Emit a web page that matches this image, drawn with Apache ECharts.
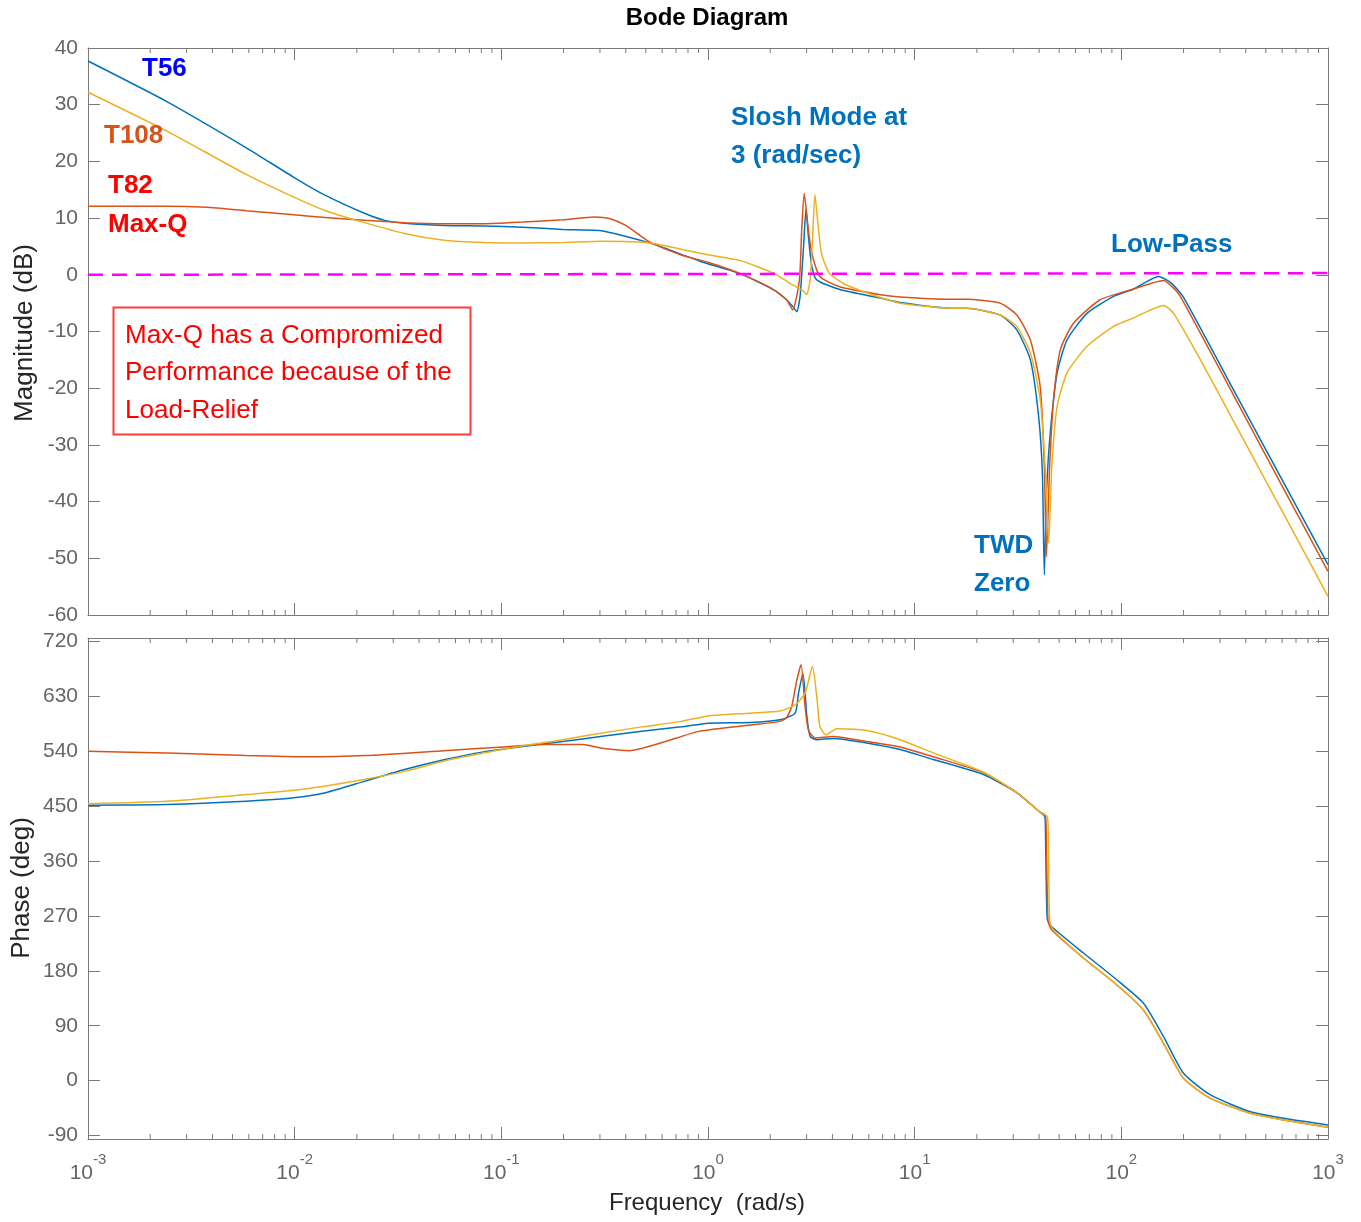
<!DOCTYPE html>
<html>
<head>
<meta charset="utf-8">
<title>Bode Diagram</title>
<script src="https://cdn.jsdelivr.net/npm/echarts@6.0.0/dist/echarts.min.js"></script>
<style>
  html, body { margin: 0; padding: 0; background: #ffffff; }
  #chart { width: 1361px; height: 1222px; }
</style>
</head>
<body>
<div id="chart"></div>
<script>
// ---- data (frequency in rad/s) ----
// T56 (blue)
var t56MagFreq = [0.001, 0.00242, 0.00583, 0.0099, 0.0141, 0.0219, 0.0272, 0.034, 0.0528, 0.082, 0.127, 0.198, 0.3, 0.524, 0.914, 1.43, 2.07, 2.4, 2.57, 2.69, 2.79, 2.9, 2.98, 3.06, 3.18, 3.36, 4.34, 6.82, 8.5, 14.9, 17.9, 25.9, 31.2, 36.3, 39.8, 41.5, 42.4, 43.5, 45.3, 48.9, 54.6, 68.2, 91.8, 114.8, 151.5, 175, 200, 350, 611, 1000];
var t56Mag = [37.7, 30.5, 22.4, 17.2, 14.0, 10.8, 9.6, 9.1, 8.7, 8.6, 8.4, 8.0, 7.8, 5.6, 2.4, 0.2, -2.6, -4.4, -5.6, -6.5, -3.8, 5.0, 11.6, 6.8, 1.5, -0.9, -2.6, -4.1, -4.9, -5.9, -5.9, -7.1, -9.7, -15, -25, -35, -52.9, -38, -27.9, -17.3, -11.5, -6.8, -3.8, -2.5, -0.3, -1.5, -4.0, -20.4, -36.7, -51.1];
var t56PhaseFreq = [0.001, 0.00242, 0.00583, 0.0099, 0.0141, 0.0219, 0.034, 0.0528, 0.082, 0.127, 0.198, 0.308, 0.478, 0.743, 1.0, 1.6, 2.23, 2.64, 2.74, 2.88, 3.01, 3.12, 3.36, 4.04, 5.86, 8.5, 12.3, 21.5, 31.2, 40.5, 42.0, 42.8, 43.8, 46.1, 65.8, 95.3, 128, 160, 200, 270, 421, 611, 1000];
var t56Phase = [451.6, 452.7, 458, 463.6, 472, 491, 510, 526, 539, 548, 556, 564.5, 573, 580, 586, 587, 591.6, 602.5, 635, 667.6, 597, 564.4, 559, 561, 553.6, 542.8, 526.5, 502, 472.3, 440, 436, 430, 265, 252.4, 208.8, 165, 126.8, 72.1, 12, -23.5, -50.9, -61.7, -72.7];

// T82 / Max-Q (red)
var t82MagFreq = [0.001, 0.00242, 0.00375, 0.00583, 0.0099, 0.0141, 0.0219, 0.034, 0.0528, 0.082, 0.127, 0.198, 0.282, 0.336, 0.40, 0.522, 0.743, 1.0, 1.43, 2.07, 2.4, 2.57, 2.77, 2.84, 2.92, 3.06, 3.18, 3.48, 4.34, 6.82, 8.5, 14.9, 17.9, 25.9, 31.2, 36.3, 40.5, 42.4, 43.4, 45.0, 47.0, 50.7, 58.8, 79, 114.8, 160, 175, 193, 350, 611, 1000];
var t82Mag = [12.1, 12.1, 11.9, 11.3, 10.6, 10.1, 9.6, 9.2, 9.0, 9.0, 9.3, 9.7, 10.2, 9.9, 8.7, 5.8, 3.5, 2.2, 0.2, -2.6, -4.4, -6.2, -0.9, 7.9, 14.4, 7.9, 3.8, -0.3, -2.1, -3.5, -3.9, -4.3, -4.3, -5.0, -7.1, -11.5, -19.7, -33.8, -49.7, -33.8, -22, -13.2, -8.5, -4.4, -2.5, -1.0, -2.0, -3.8, -21.3, -37.8, -52.3];
var t82PhaseFreq = [0.001, 0.00242, 0.00584, 0.0113, 0.0219, 0.0528, 0.102, 0.159, 0.247, 0.307, 0.418, 0.596, 0.914, 1.6, 2.23, 2.4, 2.54, 2.69, 2.82, 2.95, 3.06, 3.3, 4.04, 5.86, 8.5, 12.3, 21.5, 31.2, 40.5, 42.6, 43.2, 44.2, 46.1, 65.8, 95.3, 128, 160, 200, 270, 421, 611, 1000];
var t82Phase = [540, 537, 533, 531, 533, 541, 547, 551, 551, 545, 541, 554, 573, 583, 589, 595, 613, 656.7, 682, 613, 575, 561.8, 564.4, 556, 547, 531, 505, 472, 440, 436, 425, 262, 247, 200.6, 156.8, 115.8, 61.2, 3.8, -29, -53.5, -64.5, -76.5];

// T108 (yellow)
var t108MagFreq = [0.001, 0.00242, 0.00583, 0.0099, 0.0141, 0.0199, 0.034, 0.0528, 0.082, 0.127, 0.198, 0.308, 0.524, 0.914, 1.43, 2.07, 2.49, 2.9, 3.0, 3.12, 3.22, 3.29, 3.39, 3.54, 3.86, 4.67, 6.82, 8.5, 14.9, 17.9, 25.9, 31.2, 36.3, 40.5, 43.0, 44.5, 46.1, 48.9, 54.6, 68.2, 91.8, 114.8, 160, 179, 241.5, 350, 611, 1000];
var t108Mag = [32.2, 25.3, 17.7, 13.7, 11.3, 9.6, 7.3, 6.1, 5.7, 5.6, 5.7, 5.9, 5.6, 3.8, 2.5, 0.3, -1.5, -2.9, -3.5, -0.9, 7.9, 14.1, 9.7, 3.8, 0.3, -1.8, -4.0, -5.0, -5.9, -5.9, -7.1, -9.1, -13.8, -22, -35, -47.3, -33.8, -23.2, -17.3, -12.6, -9.1, -7.6, -5.4, -6.8, -15, -25.9, -42.2, -56.7];
var t108PhaseFreq = [0.001, 0.00242, 0.00584, 0.0099, 0.0141, 0.0219, 0.034, 0.0528, 0.082, 0.127, 0.198, 0.308, 0.478, 0.743, 1.0, 1.6, 2.23, 2.64, 2.95, 3.2, 3.36, 3.48, 3.72, 4.2, 5.86, 8.5, 12.3, 21.5, 31.2, 40.5, 43.6, 44.2, 45.0, 46.8, 65.8, 95.3, 128, 160, 200, 270, 421, 611, 1000];
var t108Phase = [454, 458, 469, 476, 483, 494, 507, 524, 537, 549, 559, 570, 580, 589, 598, 602.5, 606, 616, 635, 679.5, 629.5, 580.7, 567, 577, 574, 559, 537.4, 506, 472, 440, 434, 420, 262, 247, 200.6, 156.8, 115.8, 61.2, 3.8, -29, -53.5, -64.5, -76.5];

// 0 dB reference line (dashed magenta)
var zeroLineFreq = [0.001, 1000];
var zeroLineMag = [0, 0.3];

// axis ticks
var phaseTicks = [-90, 0, 90, 180, 270, 360, 450, 540, 630, 720];
var minorTickFreq = [];
for (var d = -3; d < 3; d++) {
	for (var k = 2; k < 10; k++) {
		minorTickFreq.push([k * Math.pow(10, d), 0]);
	}
}

var axisGray = '#7a7a7a';
var labelGray = '#666666';
var fontFam = '"Liberation Sans", Arial, Helvetica, sans-serif';
var blue = '#0072BD', red = '#D95319', yellow = '#EDB120';

function zip(xs, ys) {
	var out = [];
	for (var i = 0; i < xs.length; i++) out.push([xs[i], ys[i]]);
	return out;
}

function freqAxis(gridIndex, position, showLabel) {
	return {
		type: 'log',
		logBase: 10,
		gridIndex: gridIndex,
		position: position,
		min: 0.001,
		max: 1000,
		axisLine: { show: true, onZero: false, lineStyle: { color: axisGray, width: 1 } },
		axisTick: { show: true, inside: true, length: 12, lineStyle: { color: axisGray, width: 1 } },
		axisLabel: {
			show: showLabel,
			margin: 13,
			formatter: function (v) {
				return '{b|10}{s|' + Math.round(Math.log10(v)) + '}';
			},
			rich: {
				b: { fontSize: 21, lineHeight: 32, verticalAlign: 'bottom', color: labelGray, fontFamily: fontFam },
				s: { fontSize: 15, lineHeight: 18, verticalAlign: 'top', color: labelGray, fontFamily: fontFam }
			}
		},
		splitLine: { show: false },
		minorTick: { show: false }
	};
}

function magAxis(position, showLabel) {
	return {
		type: 'value',
		gridIndex: 0,
		position: position,
		min: -60,
		max: 40,
		interval: 10,
		axisLine: { show: true, onZero: false, lineStyle: { color: axisGray, width: 1 } },
		axisTick: { show: true, inside: true, length: 12, lineStyle: { color: axisGray, width: 1 } },
		axisLabel: { show: showLabel, margin: 10, padding: [4, 0, 0, 0], color: labelGray, fontSize: 21, fontFamily: fontFam },
		splitLine: { show: false }
	};
}

function phaseAxis(position, showLabel) {
	return {
		type: 'value',
		gridIndex: 1,
		position: position,
		min: -95.7,
		max: 725.7,
		axisLine: { show: true, onZero: false, lineStyle: { color: axisGray, width: 1 } },
		axisTick: { show: true, inside: true, length: 12, customValues: phaseTicks, lineStyle: { color: axisGray, width: 1 } },
		axisLabel: { show: showLabel, margin: 10, padding: [4, 0, 0, 0], customValues: phaseTicks, color: labelGray, fontSize: 21, fontFamily: fontFam },
		splitLine: { show: false }
	};
}

// small inward ticks at 2..9 x 10^k on top and bottom of each panel
function minorTickItem(params, api) {
	var cs = params.coordSys;
	var x = api.coord([api.value(0), api.value(1)])[0];
	var st = { stroke: axisGray, lineWidth: 1 };
	return {
		type: 'group',
		children: [
			{ type: 'line', shape: { x1: x, y1: cs.y, x2: x, y2: cs.y + 5 }, style: st },
			{ type: 'line', shape: { x1: x, y1: cs.y + cs.height, x2: x, y2: cs.y + cs.height - 5 }, style: st }
		]
	};
}

function curve(name, color, xi, yi, xs, ys) {
	return {
		name: name,
		type: 'line',
		xAxisIndex: xi,
		yAxisIndex: yi,
		data: zip(xs, ys),
		showSymbol: false,
		smooth: 0.2,
		lineStyle: { color: color, width: 1.5 },
		itemStyle: { color: color },
		z: 5
	};
}

function txt(x, y, text, color, font, align) {
	return {
		type: 'text',
		x: x,
		y: y,
		z: 100,
		style: {
			text: text,
			fill: color,
			font: font,
			align: align || 'left',
			verticalAlign: 'middle'
		}
	};
}

var chart = echarts.init(document.getElementById('chart'), null, { renderer: 'canvas' });

var option = {
	backgroundColor: '#ffffff',
	animation: false,
	grid: [
		{ left: 88, top: 48, width: 1240, height: 567 },
		{ left: 88, top: 638, width: 1240, height: 501 }
	],
	xAxis: [
		freqAxis(0, 'bottom', false),
		freqAxis(0, 'top', false),
		freqAxis(1, 'bottom', true),
		freqAxis(1, 'top', false)
	],
	yAxis: [
		magAxis('left', true),
		magAxis('right', false),
		phaseAxis('left', true),
		phaseAxis('right', false)
	],
	series: [
		{
			name: 'minor0', type: 'custom', xAxisIndex: 0, yAxisIndex: 0,
			data: minorTickFreq, renderItem: minorTickItem, silent: true, z: 3
		},
		{
			name: 'minor1', type: 'custom', xAxisIndex: 2, yAxisIndex: 2,
			data: minorTickFreq, renderItem: minorTickItem, silent: true, z: 3
		},
		curve('T56', blue, 0, 0, t56MagFreq, t56Mag),
		curve('T82 Max-Q', red, 0, 0, t82MagFreq, t82Mag),
		curve('T108', yellow, 0, 0, t108MagFreq, t108Mag),
		curve('T56 phase', blue, 2, 2, t56PhaseFreq, t56Phase),
		curve('T82 Max-Q phase', red, 2, 2, t82PhaseFreq, t82Phase),
		curve('T108 phase', yellow, 2, 2, t108PhaseFreq, t108Phase),
		{
			name: '0 dB',
			type: 'line',
			xAxisIndex: 0,
			yAxisIndex: 0,
			data: zip(zeroLineFreq, zeroLineMag),
			showSymbol: false,
			lineStyle: { color: '#FF00FF', width: 2.5, type: [15, 9] },
			z: 6
		}
	],
	graphic: [
		txt(707, 18, 'Bode Diagram', '#000000', 'bold 24px ' + fontFam, 'center'),
		{
			type: 'text', x: 25, y: 333, rotation: Math.PI / 2, z: 100,
			style: { text: 'Magnitude (dB)', fill: '#262626', font: '26px ' + fontFam, align: 'center', verticalAlign: 'middle' }
		},
		{
			type: 'text', x: 22, y: 888, rotation: Math.PI / 2, z: 100,
			style: { text: 'Phase (deg)', fill: '#262626', font: '26px ' + fontFam, align: 'center', verticalAlign: 'middle' }
		},
		txt(707, 1203, 'Frequency  (rad/s)', '#262626', '24px ' + fontFam, 'center'),

		txt(142, 69, 'T56', '#0000FF', 'bold 26px ' + fontFam),
		txt(104, 136, 'T108', red, 'bold 26px ' + fontFam),
		txt(108, 186, 'T82', '#FF0000', 'bold 26px ' + fontFam),
		txt(108, 225, 'Max-Q', '#FF0000', 'bold 26px ' + fontFam),
		txt(731, 118, 'Slosh Mode at', blue, 'bold 26px ' + fontFam),
		txt(731, 156, '3 (rad/sec)', blue, 'bold 26px ' + fontFam),
		txt(1111, 245, 'Low-Pass', blue, 'bold 26px ' + fontFam),
		txt(974, 546, 'TWD', blue, 'bold 26px ' + fontFam),
		txt(974, 584, 'Zero', blue, 'bold 26px ' + fontFam),

		{
			type: 'rect', z: 90,
			shape: { x: 113.5, y: 307.5, width: 357, height: 127 },
			style: { fill: '#ffffff', stroke: '#ff3b3b', lineWidth: 2 }
		},
		{
			type: 'text', x: 125, y: 317, z: 100,
			style: {
				text: 'Max-Q has a Compromized\nPerformance because of the\nLoad-Relief',
				fill: '#FF0000',
				font: '26px ' + fontFam,
				lineHeight: 37.5,
				align: 'left',
				verticalAlign: 'top'
			}
		}
	]
};

chart.setOption(option);
</script>
</body>
</html>
